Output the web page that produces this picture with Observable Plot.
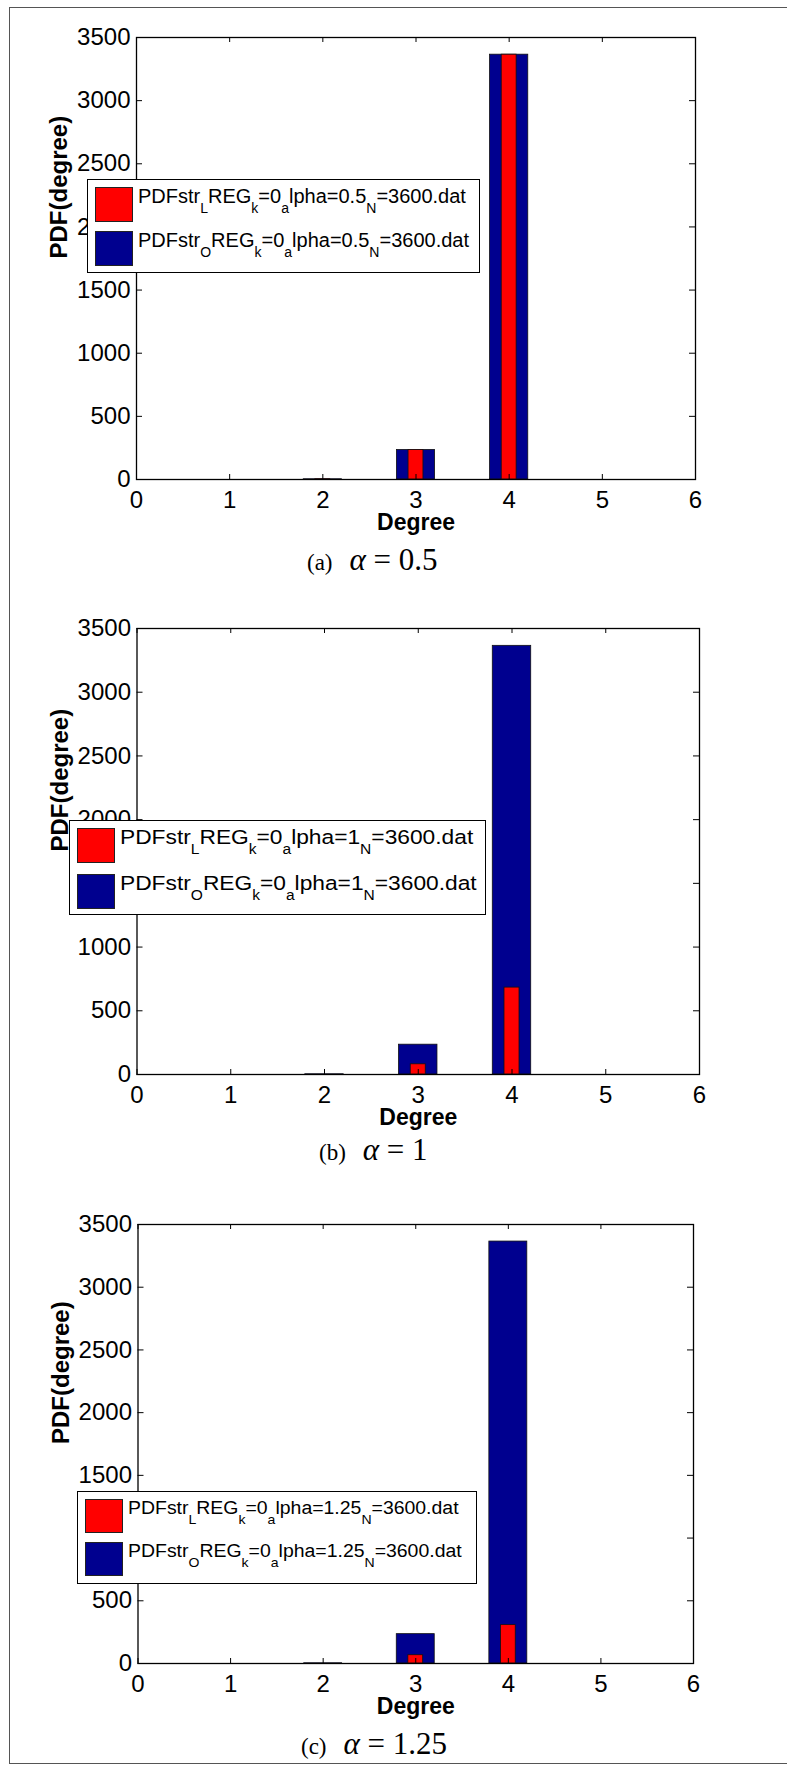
<!DOCTYPE html>
<html>
<head>
<meta charset="utf-8">
<script src="https://cdn.jsdelivr.net/npm/d3@7"></script>
<script src="https://cdn.jsdelivr.net/npm/@observablehq/plot@0.6"></script>
<style>
  html, body { margin: 0; padding: 0; background: #fff; }
  body { width: 787px; height: 1768px; position: relative; overflow: hidden; font-family: "Liberation Sans", Arial, sans-serif; }
  .sheet { position: absolute; left: 9px; top: 7px; width: 800px; height: 1757px; border: 1.5px solid #555; box-sizing: border-box; }
  .panel { position: absolute; left: 0; }
  .legend { position: absolute; background: #fff; border: 1.3px solid #000; box-sizing: border-box; }
  .swatch { position: absolute; border: 1px solid #222; box-sizing: border-box; }
  .entry { position: absolute; white-space: nowrap; color: #000; line-height: 20px; transform-origin: 0 50%; }
  .entry sub { vertical-align: -10px; line-height: 0; }
  .caption { position: absolute; white-space: nowrap; font-family: "Liberation Serif", "DejaVu Serif", serif; color: #000; line-height: 30px; }
  .caption .tag { font-size: 23px; }
  .caption .math { font-size: 31px; margin-left: 17px; }
</style>
</head>
<body>
<div class="sheet"></div>
<div id="root"></div>
<script>
// Degree axis and tick values
const degreeTicks = [0, 1, 2, 3, 4, 5, 6];
const pdfTicks = [0, 500, 1000, 1500, 2000, 2500, 3000, 3500];
const degrees = [2, 3, 4];

// PDF of the original network (same for every alpha)
const pdfO = [2, 234, 3364];
// PDF of the rewired network for each alpha
const pdfL_a05 = [2, 234, 3364];
const pdfL_a1 = [0, 80, 682];
const pdfL_a125 = [0, 66, 306];

const alphaLabels = ["0.5", "1", "1.25"];
const panelTags = ["(a)", "(b)", "(c)"];

const blue = "#00008f";
const red = "#ff0000";

// bar widths in degree units
const wideBar = 0.41;
const narrowBar = 0.16;

function rows(vals) {
  return degrees.map((d, i) => ({degree: d, value: vals[i]})).filter(r => r.value > 0);
}

// layout of each panel (svg offset and margins)
const panels = [
  {top: 0, left: 136, right: 92, plotH: 442, L: pdfL_a05,
   legend: {x: 87, y: 179, w: 393, h: 94, fs: 20, sub: 14, sx: 1.0, gap: 44, sh: 35},
   caption: {x: 307, y: 545}},
  {top: 591, left: 136.5, right: 88, plotH: 446, L: pdfL_a1,
   legend: {x: 69, y: 820, w: 417, h: 95, fs: 20.5, sub: 14, sx: 1.11, gap: 45.5, sh: 35},
   caption: {x: 319, y: 1135}},
  {top: 1187, left: 137.5, right: 94, plotH: 439, L: pdfL_a125,
   legend: {x: 77, y: 1491, w: 400, h: 93, fs: 18, sub: 13, sx: 1.08, gap: 43, sh: 34},
   caption: {x: 301, y: 1729}}
];

const root = document.getElementById("root");
const fmt = d3.format("d");

panels.forEach((p, k) => {
  const marginTop = 37, marginBottom = 62;
  const chart = Plot.plot({
    width: 787,
    height: p.plotH + marginTop + marginBottom,
    marginTop, marginBottom,
    marginLeft: p.left,
    marginRight: p.right,
    style: {fontFamily: "'Liberation Sans', Arial, sans-serif", background: "transparent", overflow: "visible"},
    x: {domain: [0, 6], ticks: degreeTicks, tickFormat: fmt},
    y: {domain: [0, 3500], ticks: pdfTicks, tickFormat: fmt},
    marks: [
      // original network bars (wide, dark blue)
      Plot.rectY(rows(pdfO), {
        x1: d => d.degree - wideBar / 2, x2: d => d.degree + wideBar / 2,
        y: "value", fill: blue, stroke: "#111", strokeWidth: 0.8
      }),
      // rewired network bars (narrow, red)
      Plot.rectY(rows(p.L), {
        x1: d => d.degree - narrowBar / 2, x2: d => d.degree + narrowBar / 2,
        y: "value", fill: red, stroke: "#111", strokeWidth: 0.8
      }),
      Plot.frame({stroke: "#000", strokeWidth: 1.3}),
      // inward ticks on all four sides
      Plot.tickX(degreeTicks, {x: d => d, insetTop: p.plotH - 5, stroke: "#000"}),
      Plot.tickX(degreeTicks, {x: d => d, insetBottom: p.plotH - 5, stroke: "#000"}),
      Plot.tickY(pdfTicks, {y: d => d, insetRight: 787 - p.left - p.right - 6, stroke: "#000"}),
      Plot.tickY(pdfTicks, {y: d => d, insetLeft: 787 - p.left - p.right - 6, stroke: "#000"}),
      Plot.axisY(pdfTicks, {tickSize: 0, tickPadding: 6, fontSize: 24, label: null, fill: "#000", tickFormat: fmt}),
      Plot.axisX(degreeTicks, {tickSize: 0, tickPadding: 11, fontSize: 24, label: null, fill: "#000", tickFormat: fmt}),
      Plot.text(["PDF(degree)"], {frameAnchor: "left", rotate: -90, dx: -77, lineAnchor: "middle",
        fontSize: 24, fontWeight: "bold", fill: "#000"}),
      Plot.text(["Degree"], {frameAnchor: "bottom", dy: 34, lineAnchor: "top",
        fontSize: 23, fontWeight: "bold", fill: "#000"})
    ]
  });
  const wrap = document.createElement("div");
  wrap.className = "panel";
  wrap.style.top = p.top + "px";
  wrap.appendChild(chart);
  root.appendChild(wrap);

  // legend box
  const lg = p.legend;
  const a = alphaLabels[k];
  const box = document.createElement("div");
  box.className = "legend";
  Object.assign(box.style, {left: lg.x + "px", top: lg.y + "px", width: lg.w + "px", height: lg.h + "px"});
  const entries = [
    {color: red, sub: "L"},
    {color: blue, sub: "O"}
  ];
  entries.forEach((e, i) => {
    const sw = document.createElement("div");
    sw.className = "swatch";
    Object.assign(sw.style, {left: "7px", top: (7 + i * lg.gap) + "px", width: "38px", height: lg.sh + "px", background: e.color});
    box.appendChild(sw);
    const t = document.createElement("div");
    t.className = "entry";
    const s = `font-size:${lg.sub}px`;
    t.innerHTML = `PDFstr<sub style="${s}">${e.sub}</sub>REG<sub style="${s}">k</sub>=0<sub style="${s}">a</sub>lpha=${a}<sub style="${s}">N</sub>=3600.dat`;
    Object.assign(t.style, {left: "50px", top: (6 + i * lg.gap) + "px", fontSize: lg.fs + "px", transform: `scaleX(${lg.sx})`});
    box.appendChild(t);
  });
  root.appendChild(box);

  // sub-caption
  const cap = document.createElement("div");
  cap.className = "caption";
  Object.assign(cap.style, {left: p.caption.x + "px", top: p.caption.y + "px"});
  cap.innerHTML = `<span class="tag">${panelTags[k]}</span><span class="math"><i>α</i> = ${a}</span>`;
  root.appendChild(cap);
});
</script>
</body>
</html>
